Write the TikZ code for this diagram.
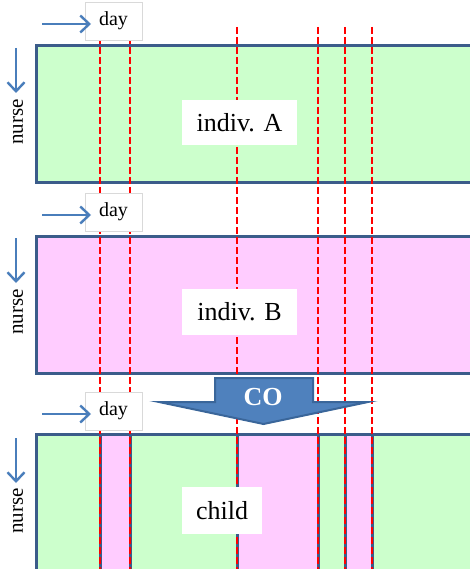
\documentclass[tikz,border=0pt]{standalone}
\usepackage{fontspec}
\setmainfont{Liberation Serif}
\usetikzlibrary{arrows.meta}
\definecolor{cellgreen}{HTML}{CCFFCC}
\definecolor{cellpink}{HTML}{FFCCFF}
\definecolor{frameblue}{HTML}{3B5C8A}
\definecolor{axisblue}{HTML}{4A7EBB}
\definecolor{cofill}{HTML}{4F81BD}
\definecolor{coedge}{HTML}{3A669A}
\definecolor{boxgray}{HTML}{D9D9D9}
\tikzset{
  panel/.style={draw=frameblue, line width=3pt},
  stripeedge/.style={draw=frameblue, line width=3pt},
  cutline/.style={draw=red, line width=1.5pt, dash pattern=on 7pt off 3pt},
  labelbox/.style={fill=white, inner sep=0pt, font=\fontsize{26}{28}\selectfont},
  daybox/.style={fill=white, draw=boxgray, line width=0.6pt, minimum width=57pt,
    minimum height=38pt, inner sep=0pt, font=\fontsize{20}{22}\selectfont},
  axisarrow/.style={draw=axisblue, line width=2.4pt,
    -{Straight Barb[length=9pt, width=17pt, line width=2.4pt]}},
  axislabel/.style={rotate=90, inner sep=0pt, font=\fontsize{21}{23}\selectfont},
  coarrow/.style={fill=cofill, draw=coedge, line width=2pt, line join=miter},
}
\begin{document}
\begin{tikzpicture}[x=1pt, y=-1pt]
\useasboundingbox (0,0) rectangle (470,569);
\clip (0,0) rectangle (470,569);

% schedule of individual A
\fill[cellgreen] (36,46) rectangle (485,183);
\draw[panel] (36,46) rectangle (485,183);

% schedule of individual B
\fill[cellpink] (36,236) rectangle (485,373);
\draw[panel] (36,236) rectangle (485,373);

% child schedule: green base with pink blocks taken from B
\fill[cellgreen] (36,434) rectangle (485,585);
\fill[cellpink] (100,434) rectangle (130,585);
\fill[cellpink] (237,434) rectangle (318,585);
\fill[cellpink] (345,434) rectangle (372,585);
\foreach \x in {100,130,237,318,345,372}
  \draw[stripeedge] (\x,434) -- (\x,585);
\draw[panel] (36,434) rectangle (485,585);

% crossover cut points
\foreach \x in {100,130,237,318,345,372}
  \draw[cutline] (\x,27) -- (\x,585);

% panel labels
\node[labelbox, minimum width=115pt, minimum height=45pt] (labA) at (239.5,122.5) {indiv. A};
\node[labelbox, minimum width=115pt, minimum height=46pt] (labB) at (239.5,312) {indiv. B};
\node[labelbox, minimum width=80pt, minimum height=47pt] (labC) at (222,510.5) {child};

% day axes
\node[daybox] (day1) at (113.5,21) {day};
\node[daybox] (day2) at (113.5,212) {day};
\node[daybox] (day3) at (113.5,411) {day};
\coordinate (d1s) at (42,24);  \coordinate (d1e) at (91,24);
\coordinate (d2s) at (42,215); \coordinate (d2e) at (91,215);
\coordinate (d3s) at (42,414); \coordinate (d3e) at (91,414);
\draw[axisarrow] (d1s) -- (d1e);
\draw[axisarrow] (d2s) -- (d2e);
\draw[axisarrow] (d3s) -- (d3e);

% nurse axes
\coordinate (n1s) at (16,48);  \coordinate (n1e) at (16,93);
\coordinate (n2s) at (16,238); \coordinate (n2e) at (16,283);
\coordinate (n3s) at (16,438); \coordinate (n3e) at (16,483);
\draw[axisarrow] (n1s) -- (n1e);
\draw[axisarrow] (n2s) -- (n2e);
\draw[axisarrow] (n3s) -- (n3e);
\node[axislabel] (nurse1) at (18,122) {nurse};
\node[axislabel] (nurse2) at (18,312) {nurse};
\node[axislabel] (nurse3) at (18,511) {nurse};

% crossover block arrow
\draw[coarrow] (215,378) -- (313,378) -- (313,402) -- (368,402)
  -- (263.5,424) -- (159,402) -- (215,402) -- cycle;
\node[text=white, font=\bfseries\fontsize{26}{28}\selectfont, inner sep=0pt] (co) at (263,397) {CO};
\end{tikzpicture}
\end{document}
